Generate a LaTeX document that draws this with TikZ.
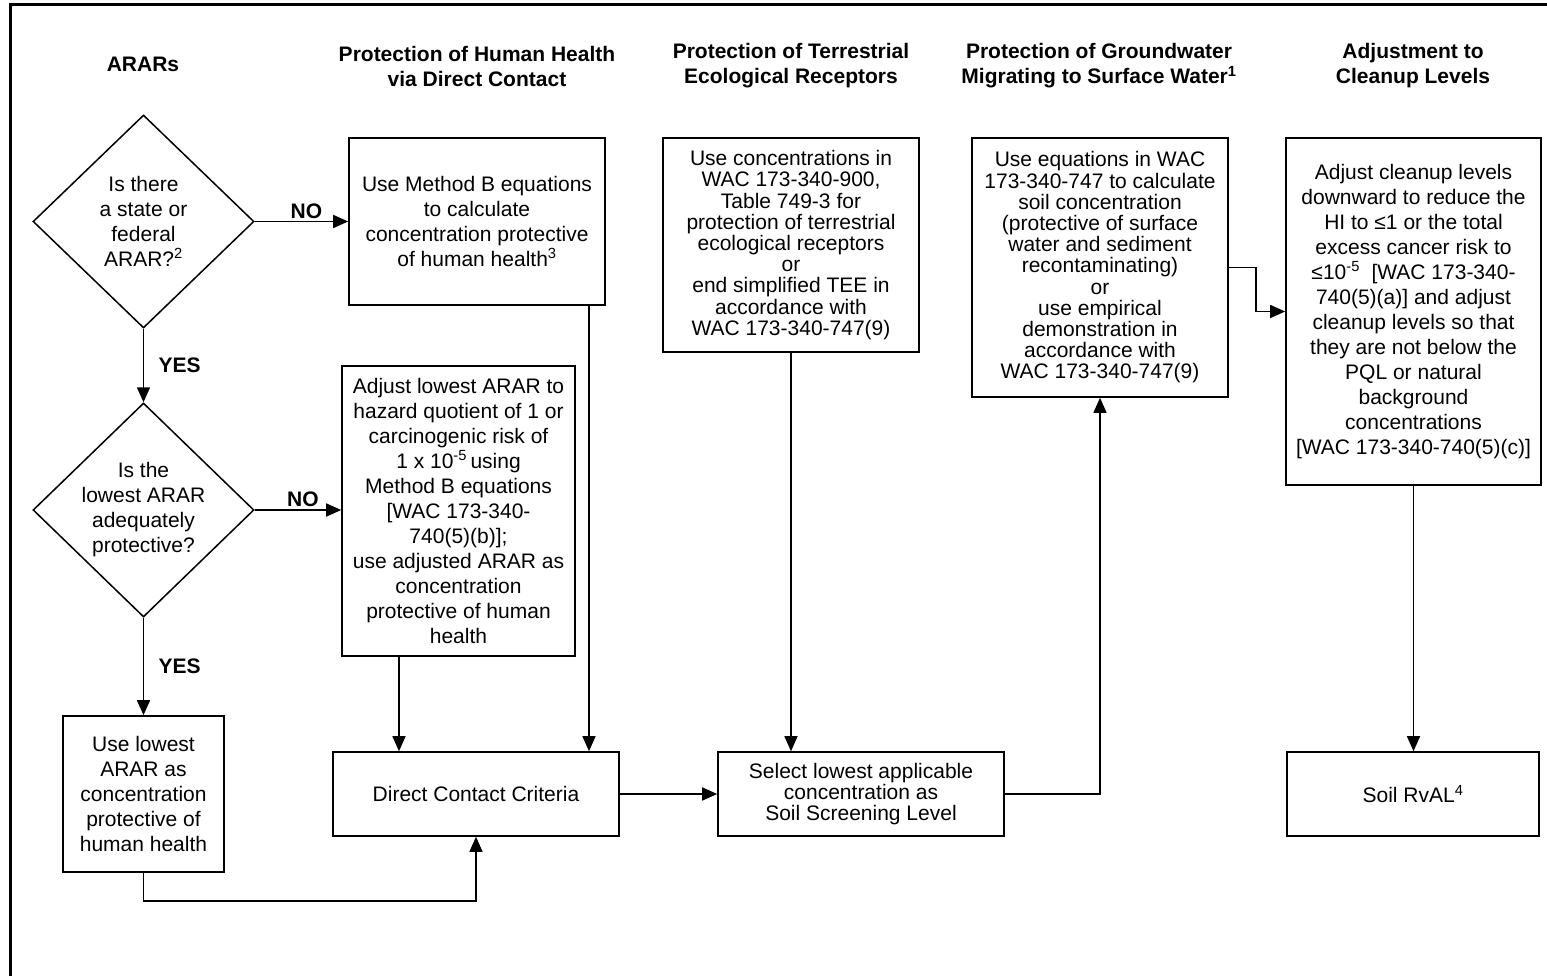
\documentclass[tikz,border=0pt]{standalone}
\usepackage{fontspec}
\setmainfont{Liberation Sans}
\usetikzlibrary{shapes.geometric,arrows.meta}
\begin{document}
\begin{tikzpicture}[x=1pt,y=-1pt,
  font=\fontsize{21}{25}\selectfont,
  box/.style={draw, line width=1.6pt, rectangle, inner sep=0pt, align=center},
  tight/.style={font=\fontsize{21}{21.2}\selectfont},
  dia/.style={draw, line width=1.5pt, diamond, inner sep=0pt, minimum width=221pt, minimum height=213pt},
  txt/.style={align=center, inner sep=0pt},
  hdr/.style={font=\bfseries\fontsize{21}{25}\selectfont, align=center, inner sep=0pt},
  lbl/.style={font=\bfseries\fontsize{21}{25}\selectfont},
  arr/.style={line width=1.5pt, -{Triangle[length=15pt,width=13pt]}},
  conn/.style={line width=1.5pt}]
\useasboundingbox (0,0) rectangle (1547,976);
\fill[white] (0,0) rectangle (1547,976);
% frame
\draw[line width=3pt] (10,977) -- (10,5) -- (1548,5);

% headers
\node[hdr] (h1) at (143,64) {ARARs};
\node[hdr] (h2) at (477,66) {Protection of Human Health\\via Direct Contact};
\node[hdr] (h3) at (791,66) {Protection of Terrestrial\\Ecological Receptors};
\node[hdr] (h4) at (1099,66) {Protection of Groundwater\\Migrating to Surface Water\textsuperscript{1}};
\node[hdr] (h5) at (1413,66) {Adjustment to\\Cleanup Levels};

% diamonds
\node[dia] (d1) at (143.5,221.5) {};
\node[txt] (d1t) at (143.5,221) {Is there\\a state or\\federal\\ARAR?\textsuperscript{2}};
\node[dia, minimum height=214pt] (d2) at (143.5,510) {};
\node[txt] (d2t) at (143.5,510) {Is the\\lowest ARAR\\adequately\\protective?};

% boxes
\node[box, minimum width=256pt, minimum height=167pt] (mb) at (477,221.5)
  {Use Method B equations\\to calculate\\concentration protective\\of human health\textsuperscript{3}};
\node[box, minimum width=233pt, minimum height=290pt] (adj) at (458.5,511)
  {Adjust lowest ARAR to\\hazard quotient of 1 or\\carcinogenic risk of\\1 x 10\textsuperscript{-5}\,using\\Method B equations\\{[}WAC 173-340-\\740(5)(b)];\\use adjusted ARAR as\\concentration\\protective of human\\health};
\node[box, minimum width=161pt, minimum height=156pt] (use) at (143.5,794)
  {Use lowest\\ARAR as\\concentration\\protective of\\human health};
\node[box, minimum width=286pt, minimum height=84pt] (dcc) at (476,794)
  {Direct Contact Criteria};
\node[box, tight, minimum width=256pt, minimum height=214pt] (ter) at (791,245)
  {Use concentrations in\\WAC 173-340-900,\\Table 749-3 for\\protection of terrestrial\\ecological receptors\\or\\end simplified TEE in\\accordance with\\WAC 173-340-747(9)};
\node[box, tight, minimum width=286pt, minimum height=84pt] (sel) at (861,794)
  {Select lowest applicable\\concentration as\\Soil Screening Level};
\node[box, tight, minimum width=256pt, minimum height=259pt] (gw) at (1100,267.5)
  {Use equations in WAC\\173-340-747 to calculate\\soil concentration\\(protective of surface\\water and sediment\\recontaminating)\\or\\use empirical\\demonstration in\\accordance with\\WAC 173-340-747(9)};
\node[box, minimum width=255pt, minimum height=347pt] (cl) at (1413.5,311.5)
  {Adjust cleanup levels\\downward to reduce the\\HI to ≤1 or the total\\excess cancer risk to\\≤10\textsuperscript{-5}~ [WAC 173-340-\\740(5)(a)] and adjust\\cleanup levels so that\\they are not below the\\PQL or natural\\background\\concentrations\\{[}WAC 173-340-740(5)(c)]};
\node[box, minimum width=252pt, minimum height=84pt] (rv) at (1413,794)
  {Soil RvAL\textsuperscript{4}};

% connectors
\draw[arr] (d1.east) -- node[lbl, above, xshift=5pt, yshift=-1pt] (no1) {NO} (mb.west |- d1.east);
\draw[arr] (d1.south) -- node[lbl, right, xshift=11pt] (yes1) {YES} (d2.north);
\draw[arr] (d2.east) -- node[lbl, above, xshift=5pt, yshift=-1pt] (no2) {NO} (adj.west |- d2.east);
\draw[arr] (d2.south) -- node[lbl, right, xshift=11pt] (yes2) {YES} (use.north);
\draw[arr] ([xshift=-59.5pt]adj.south) -- ([xshift=-59.5pt]adj.south |- dcc.north);
\draw[arr] ([xshift=112pt]mb.south) -- ([xshift=112pt]mb.south |- dcc.north);
\draw[arr] (use.south) -- ++(0,28) -| (dcc.south);
\draw[arr] (dcc.east) -- (sel.west);
\draw[arr] (ter.south) -- (ter.south |- sel.north);
\draw[arr] (sel.east) -| (gw.south);
\draw[arr] (gw.east) -- ++(27,0) |- (cl.west);
\draw[arr] (cl.south) -- (cl.south |- rv.north);
\end{tikzpicture}
\end{document}
